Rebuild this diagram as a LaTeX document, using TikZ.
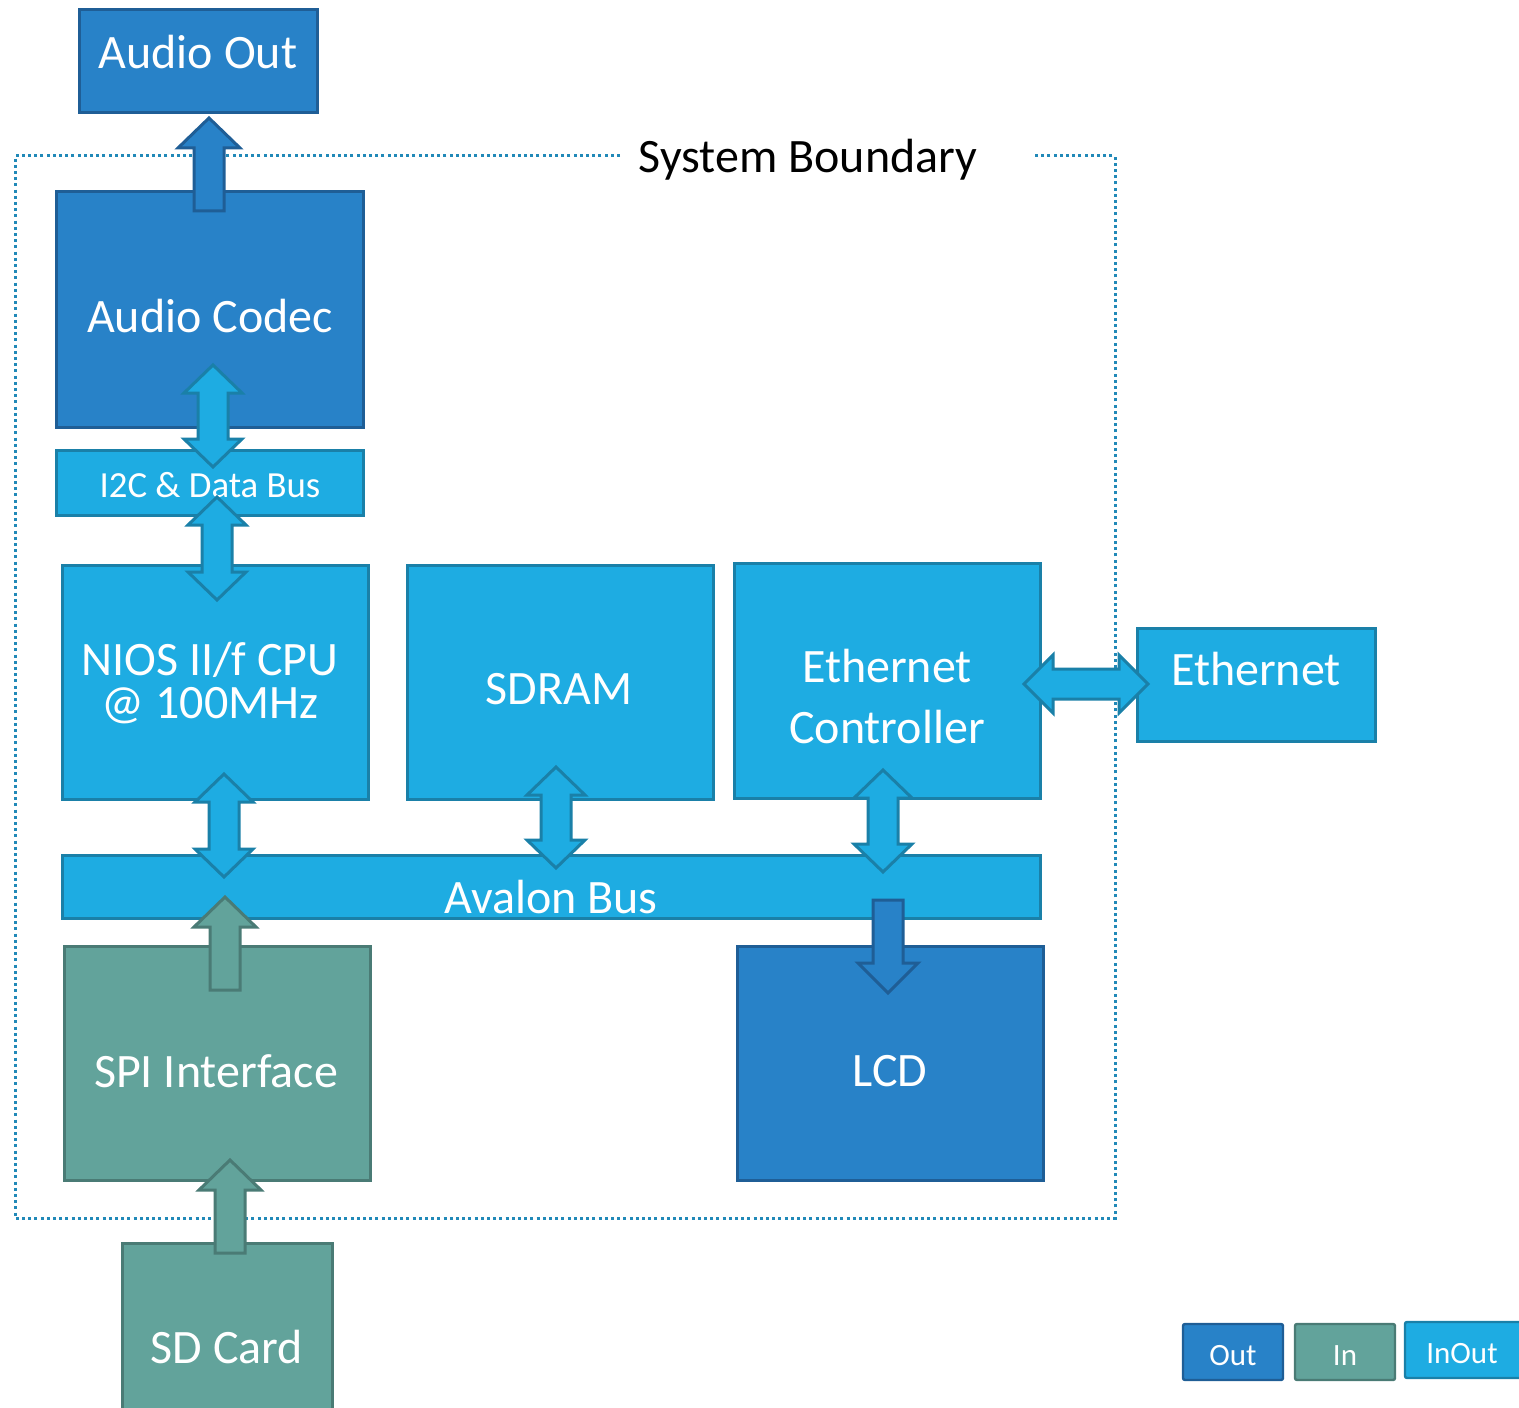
\documentclass[tikz,border=0pt]{standalone}
\usepackage{fontspec}
\setmainfont{Carlito}
\definecolor{outfill}{RGB}{40,130,200}
\definecolor{outdraw}{RGB}{31,94,150}
\definecolor{iofill}{RGB}{30,172,226}
\definecolor{iodraw}{RGB}{26,128,168}
\definecolor{infill}{RGB}{98,163,155}
\definecolor{indraw}{RGB}{74,123,117}
\definecolor{bndcol}{RGB}{33,137,184}
% name, box style, x1, y1, x2, y2, text style, text, text position
\newcommand{\boxnode}[9]{%
  \node[#2, minimum width={(#5-#3)*0.5pt}, minimum height={(#6-#4)*0.5pt}] (#1) at ({(#3+#5)/2},{(#4+#6)/2}) {};
  \node[boxtext, #7] (#1-t) at (#9) {#8};}
% vertical double arrow: x, ytop, ybot, style
\newcommand{\vdarrow}[4]{%
  \draw[#4] (#1,#2) -- ({#1+29},{#2+28}) -- ({#1+15},{#2+28}) -- ({#1+15},{#3-28}) -- ({#1+29},{#3-28}) -- (#1,#3) -- ({#1-29},{#3-28}) -- ({#1-15},{#3-28}) -- ({#1-15},{#2+28}) -- ({#1-29},{#2+28}) -- cycle;}
% up arrow: x, ytip, ybot, style
\newcommand{\uparrowblk}[4]{%
  \draw[#4] (#1,#2) -- ({#1+31},{#2+30}) -- ({#1+15},{#2+30}) -- ({#1+15},#3) -- ({#1-15},#3) -- ({#1-15},{#2+30}) -- ({#1-31},{#2+30}) -- cycle;}
% down arrow: x, ytop, ytip, style
\newcommand{\downarrowblk}[4]{%
  \draw[#4] (#1,#3) -- ({#1+30},{#3-30}) -- ({#1+15},{#3-30}) -- ({#1+15},#2) -- ({#1-15},#2) -- ({#1-15},{#3-30}) -- ({#1-30},{#3-30}) -- cycle;}
% horizontal double arrow: y, xleft, xright, style
\newcommand{\hdarrow}[4]{%
  \draw[#4] (#2,#1) -- ({#2+29},{#1-29}) -- ({#2+29},{#1-15}) -- ({#3-29},{#1-15}) -- ({#3-29},{#1-29}) -- (#3,#1) -- ({#3-29},{#1+29}) -- ({#3-29},{#1+15}) -- ({#2+29},{#1+15}) -- ({#2+29},{#1+29}) -- cycle;}
\begin{document}
\begin{tikzpicture}[x=0.5pt,y=-0.5pt,
  boxtext/.style={text=white, inner sep=0pt, align=center, font=\fontsize{24}{28}\selectfont},
  small/.style={font=\fontsize{18.4}{22}\selectfont},
  legend/.style={font=\fontsize{15.5}{18}\selectfont},
  outbox/.style={fill=outfill, draw=outdraw, line width=1.5pt, inner sep=0pt},
  iobox/.style={fill=iofill, draw=iodraw, line width=1.5pt, inner sep=0pt},
  inbox/.style={fill=infill, draw=indraw, line width=1.5pt, inner sep=0pt},
  legbox/.style={line width=1.2pt, rounded corners=1pt},
  outarr/.style={fill=outfill, draw=outdraw, line width=1.5pt, line join=miter},
  ioarr/.style={fill=iofill, draw=iodraw, line width=1.5pt, line join=miter},
  inarr/.style={fill=infill, draw=indraw, line width=1.5pt, line join=miter}]
\useasboundingbox (0,0) rectangle (1519,1407);
\clip (0,0) rectangle (1519,1407);
% system boundary
\draw[bndcol, line width=1.5pt, dash pattern=on 1.5pt off 1.6pt] (620,156) -- (15,156) -- (15,1218) -- (1115,1218) -- (1115,156) -- (1033,156);
\node[font=\fontsize{24}{28}\selectfont, inner sep=0pt] (sb) at (808,160) {System Boundary};
% boxes
\boxnode{aout}{outbox}{79}{10}{317}{113}{}{Audio Out}{198,52}
\boxnode{codec}{outbox}{56}{192}{363}{427}{}{Audio Codec}{210,316}
\boxnode{i2c}{iobox}{56}{450}{363}{515}{small}{I2C \& Data Bus}{210,485}
\boxnode{cpu}{iobox}{62}{565}{368}{799}{font=\fontsize{24}{21.5}\selectfont}{NIOS II/f CPU\\@ 100MHz}{210,683}
\boxnode{sdram}{iobox}{407}{565}{713}{799}{}{SDRAM}{559,689}
\boxnode{ethc}{iobox}{734}{563}{1040}{798}{font=\fontsize{24}{30.5}\selectfont}{Ethernet\\Controller}{887,697}
\boxnode{eth}{iobox}{1137}{628}{1375}{741}{}{Ethernet}{1256,669}
\boxnode{avalon}{iobox}{62}{855}{1040}{918}{}{Avalon Bus}{551,897}
\boxnode{spi}{inbox}{64}{946}{370}{1180}{}{SPI Interface}{216,1071}
\boxnode{lcd}{outbox}{737}{946}{1043}{1180}{}{LCD}{890,1071}
\boxnode{sd}{inbox}{122}{1243}{332}{1450}{}{SD Card}{227,1347}
% legend
\boxnode{lout}{outbox, legbox}{1183}{1324}{1283}{1380}{legend}{Out}{1233,1356}
\boxnode{lin}{inbox, legbox}{1295}{1324}{1395}{1380}{legend}{In}{1345,1356}
\boxnode{lio}{iobox, legbox}{1405}{1322}{1525}{1378}{legend}{InOut}{1462,1354}
% arrows
\uparrowblk{209}{118}{211}{outarr}
\vdarrow{213}{365}{467}{ioarr}
\vdarrow{217}{497}{600}{ioarr}
\vdarrow{224}{774}{877}{ioarr}
\vdarrow{556}{767}{868}{ioarr}
\vdarrow{883}{770}{872}{ioarr}
\downarrowblk{888}{900}{993}{outarr}
\uparrowblk{225}{897}{990}{inarr}
\uparrowblk{230}{1160}{1253}{inarr}
\hdarrow{684}{1024}{1148}{ioarr}
\end{tikzpicture}
\end{document}
